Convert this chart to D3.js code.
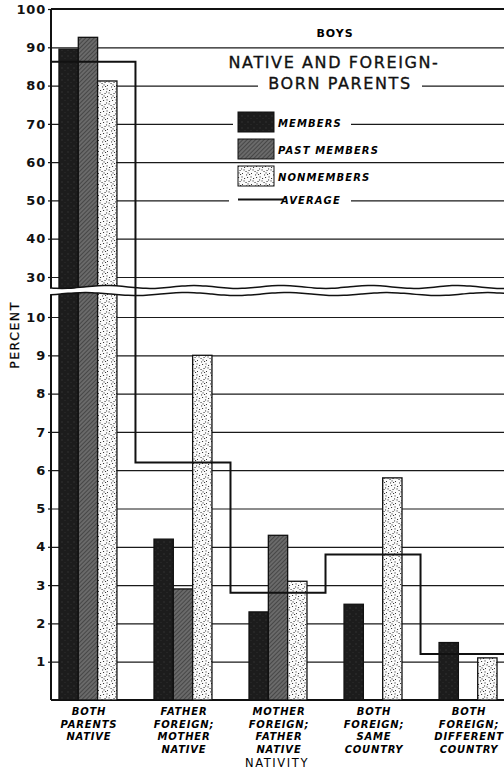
<!DOCTYPE html>
<html>
<head>
<meta charset="utf-8">
<script src="https://cdn.jsdelivr.net/npm/d3@7"></script>
<style>
  body { margin: 0; background: #fff; }
  svg { display: block; }
</style>
</head>
<body>
<svg id="chart"></svg>
<script>
// categories (label lines) and values
var categories = ["BOTH PARENTS NATIVE", "FATHER FOREIGN; MOTHER NATIVE", "MOTHER FOREIGN; FATHER NATIVE",
                  "BOTH FOREIGN; SAME COUNTRY", "BOTH FOREIGN; DIFFERENT COUNTRY"];
var categoryLines = [["BOTH", "PARENTS", "NATIVE"],
                     ["FATHER", "FOREIGN;", "MOTHER", "NATIVE"],
                     ["MOTHER", "FOREIGN;", "FATHER", "NATIVE"],
                     ["BOTH", "FOREIGN;", "SAME", "COUNTRY"],
                     ["BOTH", "FOREIGN;", "DIFFERENT", "COUNTRY"]];
var seriesNames = ["MEMBERS", "PAST MEMBERS", "NONMEMBERS"];
var members     = [89.5, 4.2, 2.3, 2.5, 1.5];
var pastMembers = [92.6, 2.9, 4.3, null, null];
var nonmembers  = [81.2, 9.0, 3.1, 5.8, 1.1];
var average     = [86.2, 6.2, 2.8, 3.8, 1.2];
var topTicks    = [30, 40, 50, 60, 70, 80, 90, 100];
var bottomTicks = [1, 2, 3, 4, 5, 6, 7, 8, 9, 10];

var width = 504, height = 775;
var left = 51, right = 505;

var svg = d3.select("#chart")
    .attr("width", width)
    .attr("height", height)
    .attr("viewBox", "0 0 " + width + " " + height);

// broken y axis: upper part 30..100, lower part 0..10
var yTop = d3.scaleLinear().domain([30, 100]).range([277, 9]);
var yBot = d3.scaleLinear().domain([0, 10]).range([700, 317]);
var breakLow = 10.6, breakHigh = 27.4;
function y(v) { return v <= breakLow ? yBot(v) : yTop(Math.max(v, breakHigh)); }

var x = d3.scaleBand().domain(categories).range([left, right])
    .paddingInner(0.39).paddingOuter(0.084);
var xs = d3.scaleBand().domain(seriesNames).range([0, x.bandwidth()]);

// patterns for the bar fills
var defs = svg.append("defs");
var pm = defs.append("pattern").attr("id", "pat-members")
    .attr("patternUnits", "userSpaceOnUse").attr("width", 6).attr("height", 6);
pm.append("rect").attr("width", 6).attr("height", 6).attr("fill", "#1c1c1c");
pm.append("circle").attr("cx", 2).attr("cy", 2).attr("r", 0.7).attr("fill", "#363636");
pm.append("circle").attr("cx", 5).attr("cy", 4.5).attr("r", 0.6).attr("fill", "#303030");

var pp = defs.append("pattern").attr("id", "pat-past")
    .attr("patternUnits", "userSpaceOnUse").attr("width", 3).attr("height", 3)
    .attr("patternTransform", "rotate(45)");
pp.append("rect").attr("width", 3).attr("height", 3).attr("fill", "#6a6a6a");
pp.append("line").attr("x1", 0).attr("y1", 0).attr("x2", 0).attr("y2", 3)
    .attr("stroke", "#2a2a2a").attr("stroke-width", 1.1);

var pn = defs.append("pattern").attr("id", "pat-non")
    .attr("patternUnits", "userSpaceOnUse").attr("width", 9).attr("height", 11);
pn.append("rect").attr("width", 9).attr("height", 11).attr("fill", "#fbfbfb");
[[1, 2], [4, 1], [7, 3.5], [2.5, 6], [5.5, 5], [8, 8], [3, 9.5], [6, 9], [0.5, 4.5], [4.5, 7.5], [7.5, 0.5]]
  .forEach(function(p) {
    pn.append("rect").attr("x", p[0]).attr("y", p[1]).attr("width", 1.1).attr("height", 0.9)
      .attr("fill", "#222");
  });

var fills = { "MEMBERS": "url(#pat-members)", "PAST MEMBERS": "url(#pat-past)", "NONMEMBERS": "url(#pat-non)" };

svg.append("rect").attr("width", width).attr("height", height).attr("fill", "#fff");

// gridlines
svg.append("g")
    .attr("transform", "translate(" + left + ",0)")
    .call(d3.axisLeft(yTop).tickValues(topTicks).tickSize(-(right - left)).tickFormat(""))
    .call(function(g) { g.select(".domain").remove(); })
    .selectAll("line").attr("stroke", "#1a1a1a").attr("stroke-width", 1.2);
svg.append("g")
    .attr("transform", "translate(" + left + ",0)")
    .call(d3.axisLeft(yBot).tickValues(bottomTicks).tickSize(-(right - left)).tickFormat(""))
    .call(function(g) { g.select(".domain").remove(); })
    .selectAll("line").attr("stroke", "#1a1a1a").attr("stroke-width", 1.2);

// top border and baseline
svg.append("line").attr("x1", left).attr("x2", right).attr("y1", yTop(100)).attr("y2", yTop(100))
    .attr("stroke", "#111").attr("stroke-width", 2);
svg.append("line").attr("x1", left).attr("x2", right).attr("y1", yBot(0)).attr("y2", yBot(0))
    .attr("stroke", "#111").attr("stroke-width", 2);

// tick labels
function styleAxis(g) {
  g.select(".domain").remove();
  g.selectAll("line").attr("stroke", "#111").attr("stroke-width", 1.2);
  g.selectAll("text")
    .attr("font-family", "DejaVu Sans")
    .attr("font-weight", "bold")
    .attr("font-size", 13)
    .attr("letter-spacing", 0.8)
    .attr("fill", "#111");
}
svg.append("g").attr("transform", "translate(" + left + ",0)")
    .call(d3.axisLeft(yTop).tickValues(topTicks).tickSize(3).tickPadding(2))
    .call(styleAxis);
svg.append("g").attr("transform", "translate(" + left + ",0)")
    .call(d3.axisLeft(yBot).tickValues(bottomTicks).tickSize(3).tickPadding(2))
    .call(styleAxis);

// left axis line
svg.append("line").attr("x1", left).attr("x2", left).attr("y1", yTop(100)).attr("y2", yBot(0))
    .attr("stroke", "#111").attr("stroke-width", 2);

// title block (white gaps where the gridlines are interrupted)
svg.append("rect").attr("x", 258).attr("y", 76).attr("width", 164).attr("height", 17).attr("fill", "#fff");
svg.append("rect").attr("x", 233).attr("y", 110).attr("width", 118).attr("height", 26).attr("fill", "#fff");
svg.append("rect").attr("x", 229).attr("y", 192).attr("width", 122).attr("height", 14).attr("fill", "#fff");

svg.append("text").attr("x", 335).attr("y", 36.5).attr("text-anchor", "middle")
    .attr("font-family", "DejaVu Sans").attr("font-weight", "bold").attr("font-size", 11)
    .attr("letter-spacing", 1).text("BOYS");
svg.append("text").attr("x", 334).attr("y", 68.3).attr("text-anchor", "middle")
    .attr("font-family", "DejaVu Sans").attr("font-size", 16).attr("letter-spacing", 1.6)
    .attr("stroke", "#111").attr("stroke-width", 0.35).attr("fill", "#111")
    .text("NATIVE AND FOREIGN-");
svg.append("text").attr("x", 340).attr("y", 89.3).attr("text-anchor", "middle")
    .attr("font-family", "DejaVu Sans").attr("font-size", 16).attr("letter-spacing", 1.6)
    .attr("stroke", "#111").attr("stroke-width", 0.35).attr("fill", "#111")
    .text("BORN PARENTS");

// legend
var legendY = [112, 139, 166];
var legend = svg.append("g");
seriesNames.forEach(function(s, i) {
  legend.append("rect").attr("x", 238).attr("y", legendY[i]).attr("width", 36).attr("height", 20)
      .attr("fill", fills[s]).attr("stroke", "#111").attr("stroke-width", 1);
  legend.append("text").attr("x", 278).attr("y", legendY[i] + 15)
      .attr("font-family", "DejaVu Sans").attr("font-weight", "bold").attr("font-style", "italic")
      .attr("font-size", 10).attr("letter-spacing", 1.1).text(s);
});
legend.append("line").attr("x1", 238).attr("x2", 283).attr("y1", 199.5).attr("y2", 199.5)
    .attr("stroke", "#111").attr("stroke-width", 1.8);
legend.append("text").attr("x", 281).attr("y", 203.5)
    .attr("font-family", "DejaVu Sans").attr("font-weight", "bold").attr("font-style", "italic")
    .attr("font-size", 10).attr("letter-spacing", 1.1).text("AVERAGE");

// bars
var rows = [];
categories.forEach(function(c, i) {
  [members, pastMembers, nonmembers].forEach(function(arr, j) {
    if (arr[i] != null) rows.push({ cat: c, series: seriesNames[j], value: arr[i] });
  });
});
svg.append("g").selectAll("rect")
    .data(rows)
    .enter().append("rect")
    .attr("x", function(d) { return x(d.cat) + xs(d.series); })
    .attr("y", function(d) { return y(d.value); })
    .attr("width", xs.bandwidth())
    .attr("height", function(d) { return yBot(0) - y(d.value); })
    .attr("fill", function(d) { return fills[d.series]; })
    .attr("stroke", "#111")
    .attr("stroke-width", 1.3);

// axis break: white band between two wavy lines
var waveX = d3.range(left - 1, right + 6, 6);
var upper = waveX.map(function(v) { return [v, y(breakHigh) + 1.5 * Math.sin((v - 40) / 14)]; });
var lower = waveX.map(function(v) { return [v, y(breakLow) + 1.5 * Math.sin((v - 10) / 16)]; });
var waveLine = d3.line().curve(d3.curveBasis);
svg.append("path")
    .attr("d", waveLine(upper) + "L" + lower.slice().reverse().map(function(p) { return p.join(","); }).join("L") + "Z")
    .attr("fill", "#fff");
svg.append("path").attr("d", waveLine(upper)).attr("fill", "none").attr("stroke", "#111").attr("stroke-width", 1.5);
svg.append("path").attr("d", waveLine(lower)).attr("fill", "none").attr("stroke", "#111").attr("stroke-width", 1.5);

// average step line
var avgPts = [];
categories.forEach(function(c, i) {
  var x0 = i === 0 ? left : (x(categories[i - 1]) + x.bandwidth() + x(c)) / 2;
  var x1 = i === categories.length - 1 ? right : (x(c) + x.bandwidth() + x(categories[i + 1])) / 2;
  avgPts.push([x0, y(average[i])], [x1, y(average[i])]);
});
svg.append("path").attr("d", d3.line()(avgPts))
    .attr("fill", "none").attr("stroke", "#111").attr("stroke-width", 2);

// category labels
var xl = svg.append("g");
categories.forEach(function(c, i) {
  var t = xl.append("text").attr("text-anchor", "middle")
      .attr("font-family", "DejaVu Sans").attr("font-weight", "bold").attr("font-style", "italic")
      .attr("font-size", 10).attr("letter-spacing", 0.8);
  categoryLines[i].forEach(function(line, k) {
    t.append("tspan").attr("x", x(c) + x.bandwidth() / 2 + 1).attr("y", 715 + k * 12.6).text(line);
  });
});

svg.append("text").attr("x", 277).attr("y", 766.5).attr("text-anchor", "middle")
    .attr("font-family", "DejaVu Sans").attr("font-size", 11.5).attr("letter-spacing", 1.6)
    .text("NATIVITY");

svg.append("text").attr("transform", "translate(19,335) rotate(-90)").attr("text-anchor", "middle")
    .attr("font-family", "DejaVu Sans").attr("font-size", 12.5).attr("letter-spacing", 1.5)
    .attr("stroke", "#111").attr("stroke-width", 0.25)
    .text("PERCENT");
</script>
</body>
</html>
